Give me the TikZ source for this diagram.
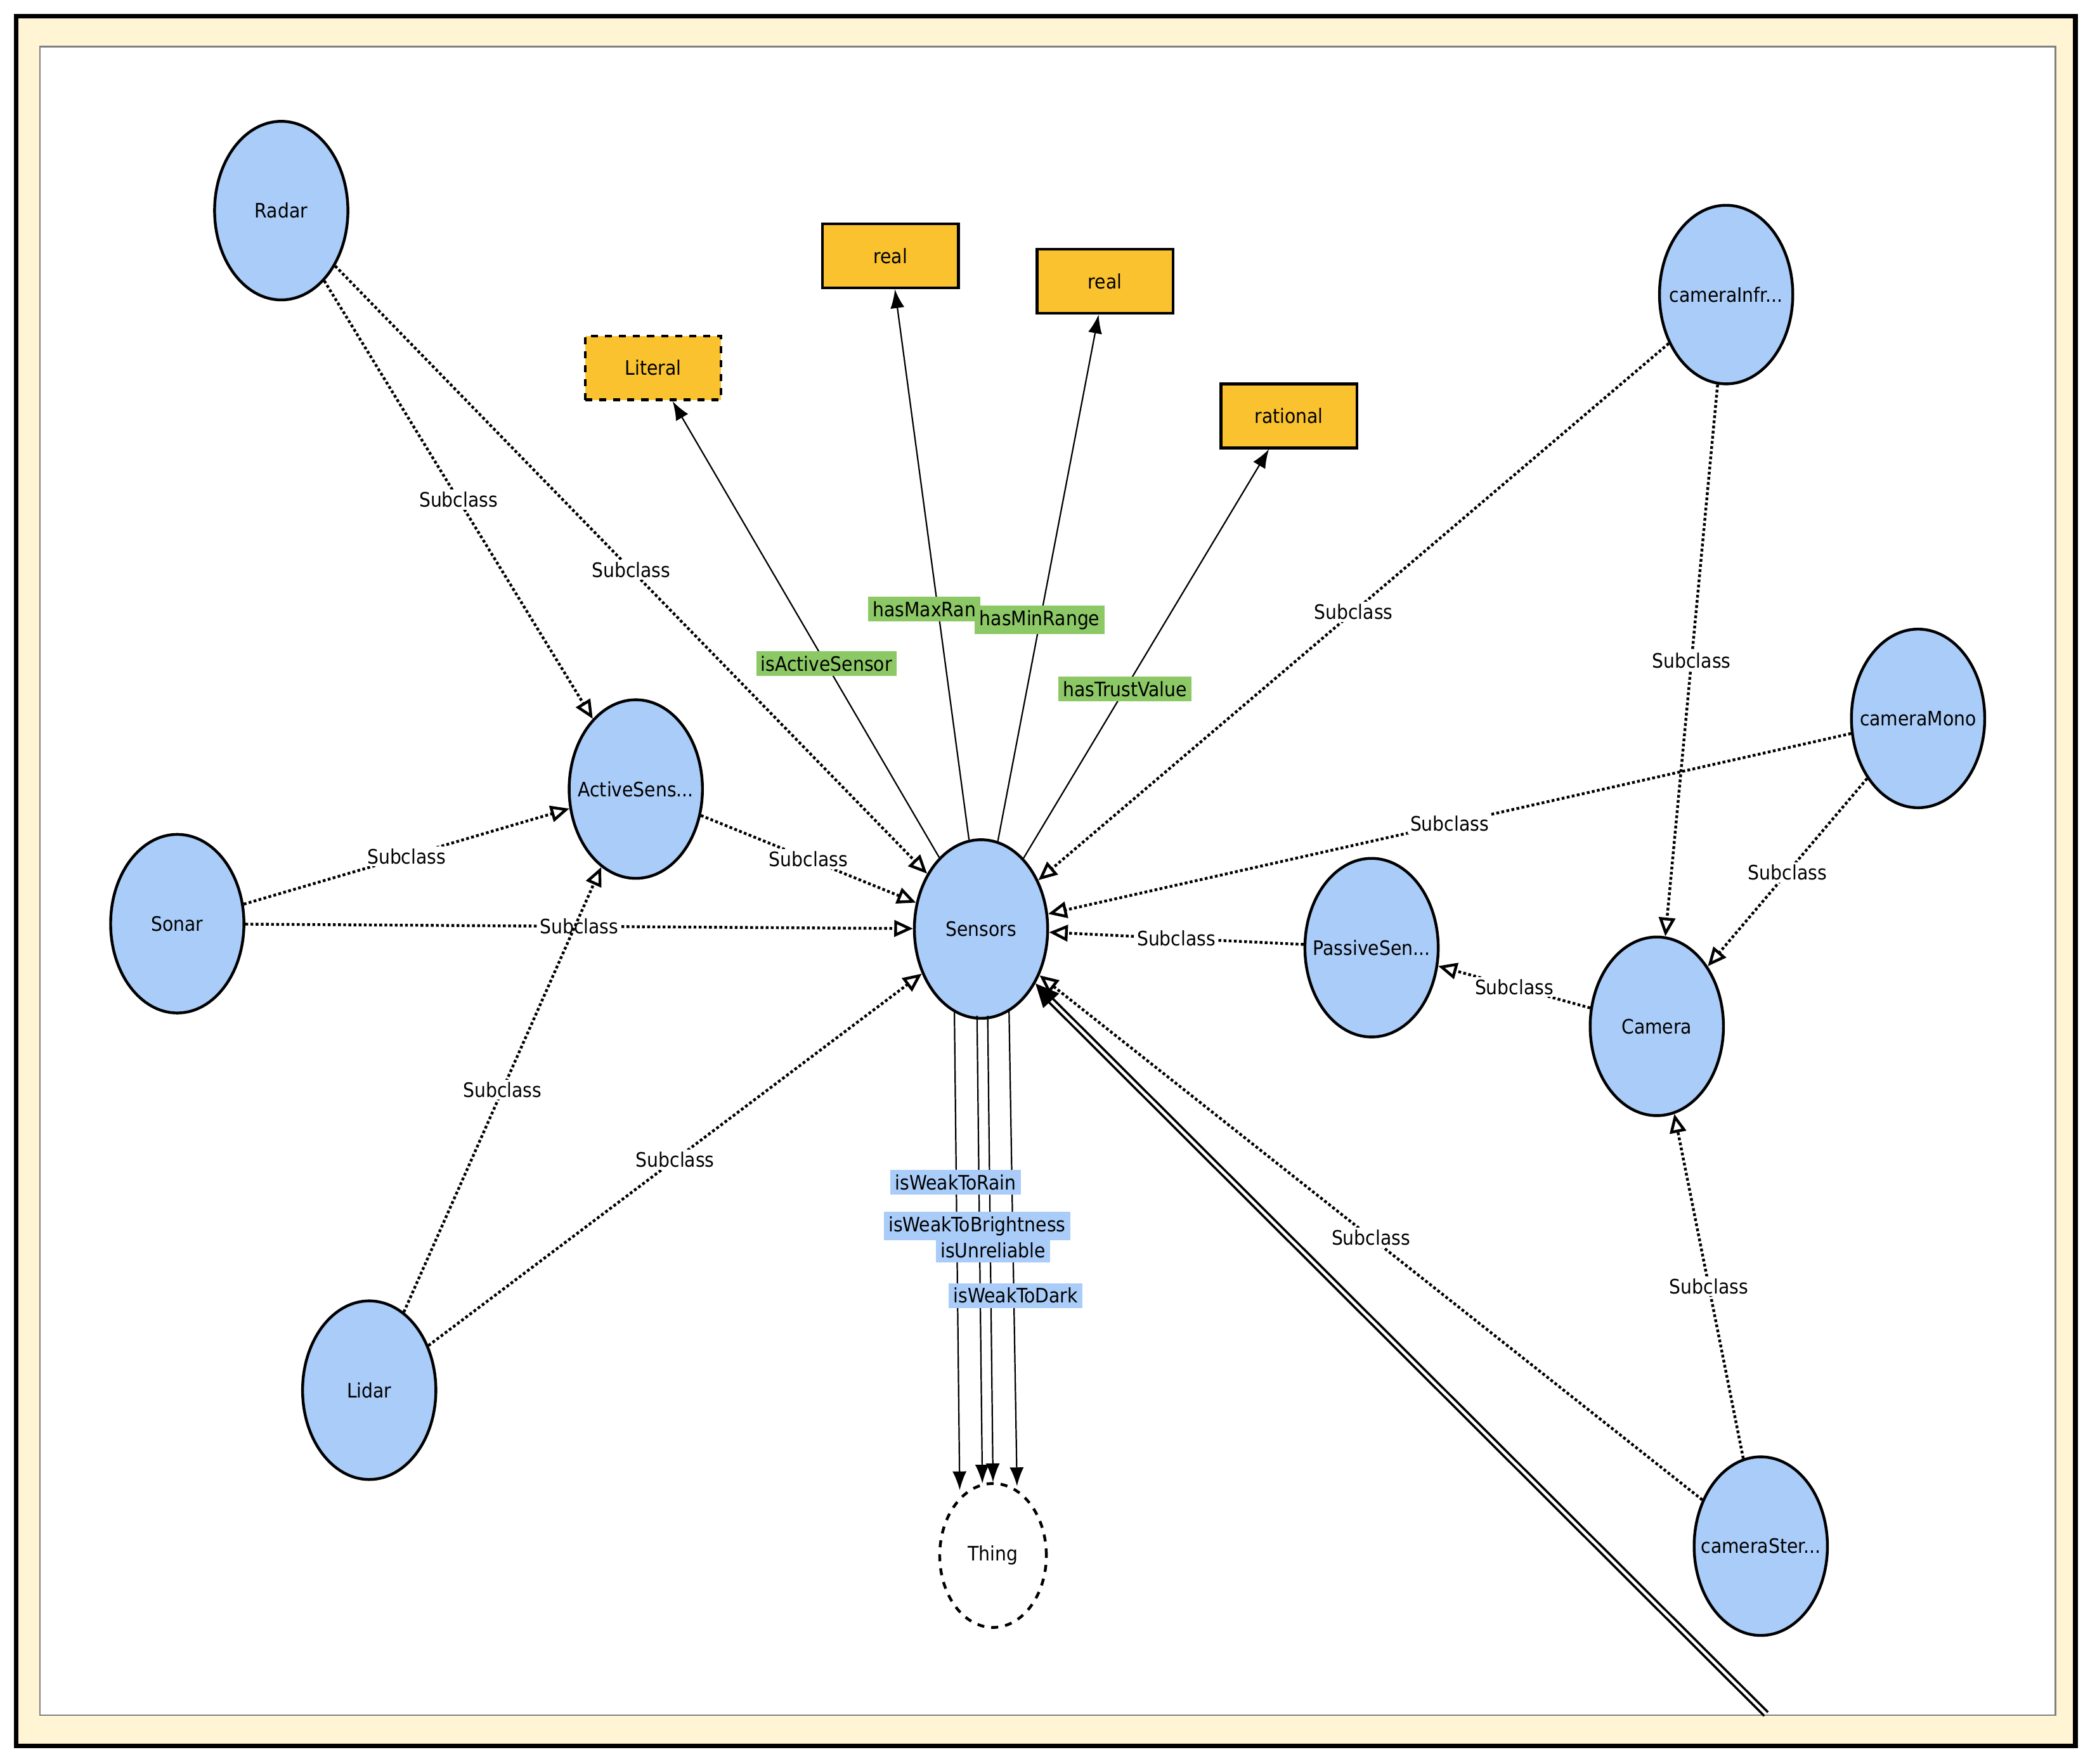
\documentclass[tikz,border=0pt]{standalone}
\usepackage{fontspec}
\setmainfont{DejaVu Sans Condensed}
\usetikzlibrary{arrows.meta,shapes.geometric}
\definecolor{cfill}{HTML}{AACCF8}
\definecolor{dfill}{HTML}{F9C22E}
\definecolor{gfill}{HTML}{8CC865}
\definecolor{frame}{HTML}{FFF4D4}
\begin{document}
\begin{tikzpicture}[x=0.02cm,y=-0.02cm,
  font=\fontsize{8.5}{10}\selectfont,
  cls/.style={ellipse,draw,line width=1.2pt,fill=cfill,minimum width=100*0.02cm,minimum height=134*0.02cm,inner sep=0pt,label={center:#1}},
  dt/.style={draw,line width=1.2pt,fill=dfill,minimum width=102*0.02cm,minimum height=48*0.02cm},
  sub/.style={densely dotted,line width=1.2pt,-{Triangle[open,length=8pt,width=7pt]}},
  lab/.style={fill=white,inner sep=1pt},
  prop/.style={-{Latex[length=8pt,width=6pt]},line width=0.6pt},
  gl/.style={fill=gfill,inner sep=2pt},
  bl/.style={fill=cfill,inner sep=2pt}]
\useasboundingbox (0,0) rectangle (1568,1323);
\fill[white] (0,0) rectangle (1568,1323);
\draw[line width=2pt,fill=frame] (12,12) rectangle (1557,1310);
\draw[gray,fill=white,line width=0.6pt] (30,35) rectangle (1542,1287);
% classes
\node[cls=Radar] (radar) at (211,158) {};
\node[cls=ActiveSens...] (act) at (477,592) {};
\node[cls=Sonar] (sonar) at (133,693) {};
\node[cls=Lidar] (lidar) at (277,1043) {};
\node[cls=Sensors] (sens) at (736,697) {};
\node[cls=PassiveSen...] (pass) at (1029,711) {};
\node[cls=Camera] (cam) at (1243,770) {};
\node[cls=cameraInfr...] (inf) at (1295,221) {};
\node[cls=cameraMono] (mono) at (1439,539) {};
\node[cls=cameraSter...] (ster) at (1321,1160) {};
\node[ellipse,draw,dashed,line width=1.2pt,minimum width=80*0.02cm,minimum height=108*0.02cm] (thing) at (745,1167) {Thing};
% datatypes
\node[dt,dashed] (lit) at (490,276) {Literal};
\node[dt] (real1) at (668,192) {real};
\node[dt] (real2) at (829,211) {real};
\node[dt] (rat) at (967,312) {rational};
% subclass edges
\draw[sub] (radar) -- node[lab]{Subclass} (act);
\draw[sub] (radar) -- node[lab]{Subclass} (sens);
\draw[sub] (sonar) -- node[lab]{Subclass} (act);
\draw[sub] (sonar) -- node[lab]{Subclass} (sens);
\draw[sub] (lidar) -- node[lab]{Subclass} (act);
\draw[sub] (lidar) -- node[lab]{Subclass} (sens);
\draw[sub] (act) -- node[lab]{Subclass} (sens);
\draw[sub] (inf) -- node[lab]{Subclass} (sens);
\draw[sub] (inf) -- node[lab]{Subclass} (cam);
\draw[sub] (mono) -- node[lab]{Subclass} (sens);
\draw[sub] (mono) -- node[lab]{Subclass} (cam);
\draw[sub] (pass) -- node[lab]{Subclass} (sens);
\draw[sub] (cam) -- node[lab]{Subclass} (pass);
\draw[sub] (ster) -- node[lab]{Subclass} (sens);
\draw[sub] (ster) -- node[lab]{Subclass} (cam);
% thick double line
\coordinate (edge) at (1325,1286);
\draw[double,line width=1pt,double distance=1.2pt,-{Triangle[length=10pt,width=9pt]}] (edge) -- (sens);
% object properties
\draw[prop] (sens) -- (lit);
\draw[prop] (sens) -- (real1);
\draw[prop] (sens) -- (real2);
\draw[prop] (sens) -- (rat);
\node[gl] at (620,498) {isActiveSensor};
\node[gl,anchor=west] at (651,457) {hasMaxRan};
\node[gl] at (780,465) {hasMinRange};
\node[gl] at (844,517) {hasTrustValue};
% to Thing
\coordinate (s1) at (716,758); \coordinate (t1) at (720,1118);
\coordinate (s2) at (733,762); \coordinate (t2) at (737,1113);
\coordinate (s3) at (741,762); \coordinate (t3) at (745,1112);
\coordinate (s4) at (757,758); \coordinate (t4) at (763,1115);
\foreach \i in {1,2,3,4} \draw[prop] (s\i) -- (t\i);
\node[bl] at (717,887) {isWeakToRain};
\node[bl] at (745,938) {isUnreliable};
\node[bl] at (733,920) {isWeakToBrightness};
\node[bl] at (762,972) {isWeakToDark};
\end{tikzpicture}
\end{document}
